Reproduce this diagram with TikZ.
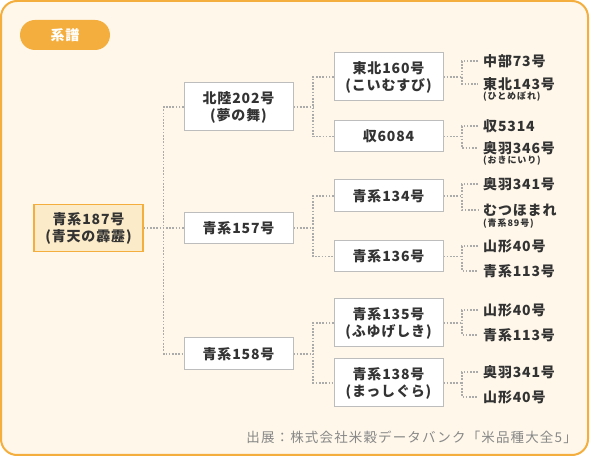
\documentclass[tikz,border=0pt]{standalone}
\usepackage{fontspec}
\newfontfamily\jp{Noto Sans CJK JP}[LetterSpace=6]
\newfontfamily\jps{Noto Sans CJK JP}[LetterSpace=10]
\newfontfamily\jpn{Noto Sans CJK JP}[LetterSpace=8.5]
\definecolor{frameorange}{HTML}{F4AE3D}
\definecolor{bgcream}{HTML}{FEF7EA}
\definecolor{rootfill}{HTML}{FCEBC8}
\definecolor{boxline}{HTML}{BDBDBD}
\definecolor{dotline}{HTML}{ABABAB}
\definecolor{textc}{HTML}{333333}
\definecolor{footc}{HTML}{888888}
\tikzset{
  mainfont/.style={font={\jp\bfseries\fontsize{14}{17}\selectfont}},
  box/.style={mainfont, draw=boxline, fill=white, line width=1pt, minimum width=109pt, inner sep=0pt, align=center, text=textc},
  rootbox/.style={box, draw=frameorange, fill=rootfill, line width=1.2pt},
  leaf/.style={mainfont, anchor=west, inner sep=0pt, text height=11.6pt, text depth=1pt, text=textc},
  subleaf/.style={font={\jps\bfseries\fontsize{9}{10}\selectfont}, anchor=west, inner sep=0pt, text=textc},
  conn/.style={draw=dotline, line width=1.1pt, dash pattern=on 1.6pt off 1.6pt},
}
\begin{document}
\begin{tikzpicture}[x=1pt,y=-1pt]
\useasboundingbox (0,0) rectangle (590,457);
\draw[draw=frameorange, fill=bgcream, line width=2pt, rounded corners=16pt] (1,1) rectangle (588,455);
% badge
\node[fill=frameorange, rounded corners=15pt, minimum width=90pt, minimum height=30pt, inner sep=0pt,
      text=white, font={\jp\bfseries\fontsize{14}{16}\selectfont}] (badge) at (65,35) {系譜};
% root
\node[rootbox, minimum height=47pt] (root) at (88.5,228) {青系187号\\(青天の霹靂)};
% level 2
\node[box, minimum height=48pt] (na) at (238.5,107) {北陸202号\\(夢の舞)};
\node[box, minimum height=31pt] (nb) at (238.5,228) {青系157号};
\node[box, minimum height=32pt] (nc) at (238.5,354) {青系158号};
% level 3
\node[box, minimum height=48pt] (a1) at (388.5,77) {東北160号\\(こいむすび)};
\node[box, minimum height=31pt] (a2) at (388.5,136.5) {収6084};
\node[box, minimum height=32pt] (b1) at (388.5,196) {青系134号};
\node[box, minimum height=31pt] (b2) at (388.5,256.5) {青系136号};
\node[box, minimum height=48pt] (c1) at (388.5,323) {青系135号\\(ふゆげしき)};
\node[box, minimum height=48pt] (c2) at (388.5,383) {青系138号\\(まっしぐら)};
% leaves
\node[leaf] (l1) at (483,61) {中部73号};
\node[leaf] (l2) at (483,84) {東北143号};
\node[subleaf] (s2) at (483,97) {(ひとめぼれ)};
\node[leaf] (l3) at (483,126) {収5314};
\node[leaf] (l4) at (483,148) {奥羽346号};
\node[subleaf] (s4) at (483,161) {(おきにいり)};
\node[leaf] (l5) at (483,184) {奥羽341号};
\node[leaf] (l6) at (483,210) {むつほまれ};
\node[subleaf] (s6) at (483,224) {(青系89号)};
\node[leaf] (l7) at (483,246) {山形40号};
\node[leaf] (l8) at (483,271) {青系113号};
\node[leaf] (l9) at (483,310) {山形40号};
\node[leaf] (l10) at (483,335) {青系113号};
\node[leaf] (l11) at (483,372) {奥羽341号};
\node[leaf] (l12) at (483,397) {山形40号};
% footer
\node[anchor=east, inner sep=0pt, text=footc, font={\jpn\fontsize{13.5}{16}\selectfont}] (src) at (577,437) {出展：株式会社米穀データバンク「米品種大全5」};
% connectors root -> level 2
\path (root.east) ++(20,0) coordinate (j0);
\draw[conn] (root.east) -- (nb.west);
\draw[conn] (na.west) -| (j0) |- (nc.west);
% level 2 -> level 3
\path (na.east) ++(19.5,0) coordinate (ja);
\draw[conn] (na.east) -- (ja);
\draw[conn] (a1.west) -| (ja) |- (a2.west);
\path (nb.east) ++(19.5,0) coordinate (jb);
\draw[conn] (nb.east) -- (jb);
\draw[conn] (b1.west) -| (jb) |- (b2.west);
\path (nc.east) ++(19.5,0) coordinate (jc);
\draw[conn] (nc.east) -- (jc);
\draw[conn] (c1.west) -| (jc) |- (c2.west);
% level 3 -> leaves
\foreach \b/\u/\v in {a1/l1/l2, a2/l3/l4, b1/l5/l6, b2/l7/l8, c1/l9/l10, c2/l11/l12}{
  \path (\b.east) ++(18.5,0) coordinate (j\b);
  \draw[conn] (\b.east) -- (j\b);
  \draw[conn] ([xshift=-5pt]\u.west) -| (j\b) |- ([xshift=-5pt]\v.west);
}
\end{tikzpicture}
\end{document}
